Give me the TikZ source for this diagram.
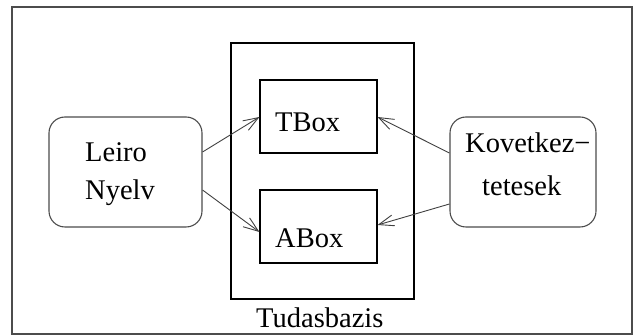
\documentclass[tikz,border=0pt]{standalone}
\usepackage{fontspec}
\setmainfont{Liberation Serif}
\usetikzlibrary{arrows.meta,calc}
\begin{document}
\begin{tikzpicture}[x=1pt,y=-1pt,
  frame/.style={draw=black!70,line width=1.3pt,inner sep=0pt},
  box/.style={draw=black,line width=1.1pt,inner sep=0pt},
  rbox/.style={draw=black!70,line width=1.1pt,rounded corners=16pt,inner sep=0pt},
  lbl/.style={inner sep=0pt,anchor=base west,font=\fontsize{28.5}{34}\selectfont},
  conn/.style={draw=black!75,line width=0.9pt,-{Straight Barb[length=15pt,width=11pt,line width=0.9pt]}}]
\useasboundingbox (0,0) rectangle (635,336);
\node[frame,minimum width=620pt,minimum height=327pt] (outer) at (322,170.5) {};
\node[box,minimum width=183pt,minimum height=256pt] (kb) at (322.5,171) {};
\node[box,minimum width=117pt,minimum height=73pt] (tbox) at (318.5,116.5) {};
\node[box,minimum width=117pt,minimum height=73pt] (abox) at (318.5,226.5) {};
\node[rbox,minimum width=153pt,minimum height=110pt] (leiro) at (125.5,172) {};
\node[rbox,minimum width=146pt,minimum height=110pt] (kov) at (523,172) {};
\node[lbl] (t1) at (85,162) {Leiro};
\node[lbl] (t2) at (85,200) {Nyelv};
\node[lbl] (t3) at (275,132) {TBox};
\node[lbl] (t4) at (275,248) {ABox};
\node[lbl] (t5) at (256,328) {Tudasbazis};
\node[lbl] (t6) at (465,153) {Kovetkez−};
\node[lbl] (t7) at (482,196) {tetesek};
\draw[conn] ($(leiro.east)+(0,-20)$) -- ($(tbox.west)+(0,0.5)$);
\draw[conn] ($(leiro.east)+(0,18)$) -- ($(abox.west)+(0,5.5)$);
\draw[conn] ($(kov.west)+(0,-19)$) -- ($(tbox.east)+(0,0.5)$);
\draw[conn] ($(kov.west)+(0,32)$) -- ($(abox.east)+(0,-1.5)$);
\end{tikzpicture}
\end{document}
